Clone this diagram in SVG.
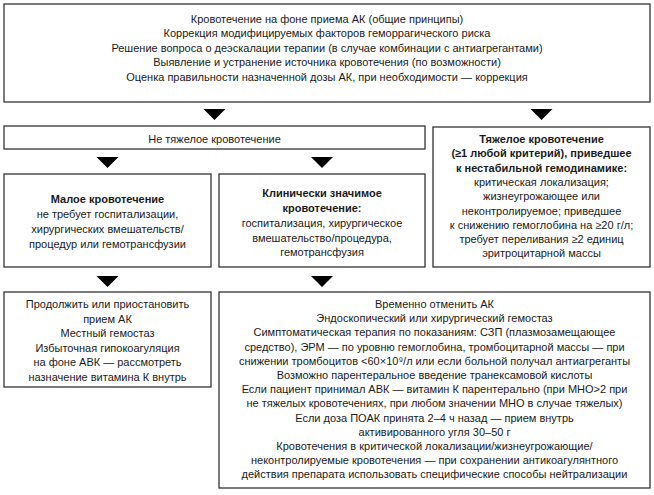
<svg xmlns="http://www.w3.org/2000/svg" width="654" height="495" viewBox="0 0 654 495">
<style>
.box{fill:#fff;stroke:#333;stroke-width:1.3}
text{font-family:"Liberation Sans",Arial,sans-serif;font-size:11px;fill:#1a1a1a;text-anchor:middle}
.b{font-weight:bold}
.arr{fill:#000}
</style>
<rect width="654" height="495" fill="#fff"/>
<g id="general">
<rect class="box" x="4" y="4" width="646" height="98"/>
<text x="327" y="22.5">Кровотечение на фоне приема АК (общие принципы)</text>
<text x="327" y="37">Коррекция модифицируемых факторов геморрагического риска</text>
<text x="327" y="51.5">Решение вопроса о деэскалации терапии (в случае комбинации с антиагрегантами)</text>
<text x="327" y="66">Выявление и устранение источника кровотечения (по возможности)</text>
<text x="327" y="80.5">Оценка правильности назначенной дозы АК, при необходимости — коррекция</text>
</g>
<g id="nonsevere">
<rect class="box" x="4" y="126" width="421" height="23"/>
<text x="214.5" y="142.5">Не тяжелое кровотечение</text>
</g>
<g id="severe">
<rect class="box" x="433" y="127" width="217" height="140"/>
<text class="b" x="541.5" y="143">Тяжелое кровотечение</text>
<text class="b" x="541.5" y="157.3">(≥1 любой критерий), приведшее</text>
<text class="b" x="541.5" y="171.6">к нестабильной гемодинамике:</text>
<text x="541.5" y="185.9">критическая локализация;</text>
<text x="541.5" y="200.2">жизнеугрожающее или</text>
<text x="541.5" y="214.5">неконтролируемое; приведшее</text>
<text x="541.5" y="228.8">к снижению гемоглобина на ≥20 г/л;</text>
<text x="541.5" y="243.1">требует переливания ≥2 единиц</text>
<text x="541.5" y="257.4">эритроцитарной массы</text>
</g>
<g id="minor">
<rect class="box" x="4" y="174" width="207" height="93"/>
<text class="b" x="107.5" y="203">Малое кровотечение</text>
<text x="107.5" y="218">не требует госпитализации,</text>
<text x="107.5" y="233">хирургических вмешательств/</text>
<text x="107.5" y="248">процедур или гемотрансфузии</text>
</g>
<g id="clinical">
<rect class="box" x="219" y="174" width="206" height="93"/>
<text class="b" x="322" y="197">Клинически значимое</text>
<text class="b" x="322" y="212">кровотечение:</text>
<text x="322" y="227">госпитализация, хирургическое</text>
<text x="322" y="242">вмешательство/процедура,</text>
<text x="322" y="256">гемотрансфузия</text>
</g>
<g id="minor-actions">
<rect class="box" x="4" y="292" width="207" height="95"/>
<text x="107.5" y="308">Продолжить или приостановить</text>
<text x="107.5" y="322.5">прием АК</text>
<text x="107.5" y="337">Местный гемостаз</text>
<text x="107.5" y="351.5">Избыточная гипокоагуляция</text>
<text x="107.5" y="366">на фоне АВК — рассмотреть</text>
<text x="107.5" y="380.5">назначение витамина К внутрь</text>
</g>
<g id="major-actions">
<rect class="box" x="219" y="292" width="431" height="196"/>
<text x="434.5" y="308">Временно отменить АК</text>
<text x="434.5" y="322.2">Эндоскопический или хирургический гемостаз</text>
<text x="434.5" y="336.4">Симптоматическая терапия по показаниям: СЗП (плазмозамещающее</text>
<text x="434.5" y="350.6">средство), ЭРМ — по уровню гемоглобина, тромбоцитарной массы — при</text>
<text x="434.5" y="364.8">снижении тромбоцитов &lt;60×10⁹/л или если больной получал антиагреганты</text>
<text x="434.5" y="379">Возможно парентеральное введение транексамовой кислоты</text>
<text x="434.5" y="393.2">Если пациент принимал АВК — витамин К парентерально (при МНО&gt;2 при</text>
<text x="434.5" y="407.4">не тяжелых кровотечениях, при любом значении МНО в случае тяжелых)</text>
<text x="434.5" y="421.6">Если доза ПОАК принята 2–4 ч назад — прием внутрь</text>
<text x="434.5" y="435.8">активированного угля 30–50 г</text>
<text x="434.5" y="450">Кровотечения в критической локализации/жизнеугрожающие/</text>
<text x="434.5" y="464.2">неконтролируемые кровотечения — при сохранении антикоагулянтного</text>
<text x="434.5" y="478.4">действия препарата использовать специфические способы нейтрализации</text>
</g>
<g id="connectors">
<polygon class="arr" points="203.5,109 225.5,109 214.5,120"/>
<polygon class="arr" points="530.5,109 552.5,109 541.5,120"/>
<polygon class="arr" points="96.5,157 118.5,157 107.5,168"/>
<polygon class="arr" points="311,157 333,157 322,168"/>
<polygon class="arr" points="96.5,276 118.5,276 107.5,287"/>
<polygon class="arr" points="311,276 333,276 322,287"/>
</g>
</svg>
